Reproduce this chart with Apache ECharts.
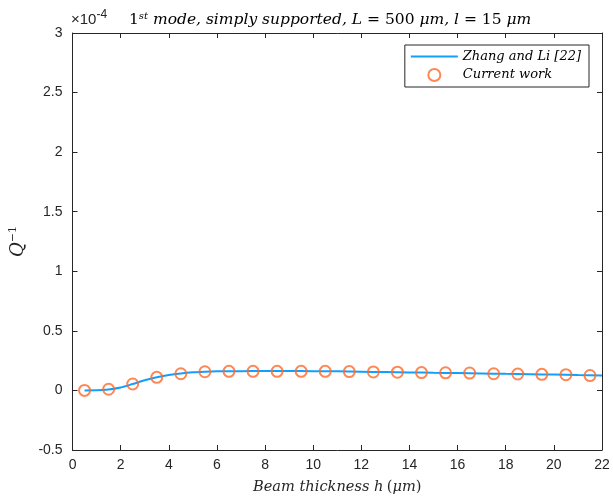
<!DOCTYPE html>
<html><head><meta charset="utf-8">
<script src="https://cdn.jsdelivr.net/npm/echarts@6/dist/echarts.min.js"></script>
<style>html,body{margin:0;padding:0;background:#fff}#c{width:613px;height:501px}</style>
</head><body><div id="c"></div>
<script>
// values in units of 1e-4
const lineX = [0.5,1,1.5,2,2.5,3,3.5,4,4.5,5,5.5,6,7,8,9,10,11,12,13,14,15,16,17,18,19,20,21,22];
const lineY = [0,0.001,0.008,0.025,0.054,0.085,0.11,0.13,0.143,0.152,0.157,0.16,0.162,0.163,0.163,0.162,0.16,0.157,0.154,0.151,0.148,0.146,0.143,0.139,0.136,0.133,0.129,0.125];
const ptsX = [0.5,1.5,2.5,3.5,4.5,5.5,6.5,7.5,8.5,9.5,10.5,11.5,12.5,13.5,14.5,15.5,16.5,17.5,18.5,19.5,20.5,21.5];
const ptsY = [0,0.01,0.054,0.11,0.14,0.157,0.16,0.16,0.16,0.16,0.16,0.158,0.155,0.153,0.15,0.148,0.146,0.14,0.138,0.135,0.132,0.125];
const xTicks = [0,2,4,6,8,10,12,14,16,18,20,22];
const yTicks = [-0.5,0,0.5,1,1.5,2,2.5,3];

const axisCol = '#262626';
const serif = 'DejaVu Serif';
const chart = echarts.init(document.getElementById('c'), null, {renderer:'canvas'});
const tickStyle = {show:true, inside:true, length:5, lineStyle:{color:axisCol, width:1}};
chart.setOption({
  animation:false,
  grid:{left:70, right:11, top:33, bottom:51, containLabel:false},
  xAxis:[{type:'value', min:0, max:22, interval:2, position:'bottom',
    axisLine:{show:true, onZero:false, lineStyle:{color:axisCol, width:1}},
    axisTick:tickStyle, splitLine:{show:false},
    axisLabel:{color:axisCol, fontFamily:'Liberation Sans', fontSize:14, margin:8},
    name:'{i|Beam thickness h} {n|(}{i|μm}{n|)}', nameLocation:'middle', nameGap:30,
    nameTextStyle:{rich:{i:{fontFamily:serif, fontStyle:'italic', fontSize:14.6, color:axisCol}, n:{fontFamily:serif, fontSize:14.6, color:axisCol}}}
  },{type:'value', min:0, max:22, interval:2, position:'top',
    axisLine:{show:true, onZero:false, lineStyle:{color:axisCol, width:1}},
    axisTick:tickStyle, axisLabel:{show:false}, splitLine:{show:false}}],
  yAxis:[{type:'value', min:-0.5, max:3, interval:0.5, position:'left',
    axisLine:{show:true, onZero:false, lineStyle:{color:axisCol, width:1}},
    axisTick:tickStyle, splitLine:{show:false},
    axisLabel:{color:axisCol, fontFamily:'Liberation Sans', fontSize:14, margin:10,
      formatter: v => yTicks.includes(v) ? String(v) : ''},
    name:'{i|Q}{s|−1}', nameLocation:'middle', nameGap:35, nameRotate:90,
    nameTextStyle:{rich:{i:{fontFamily:serif, fontStyle:'italic', fontSize:18, color:axisCol}, s:{fontFamily:serif, fontSize:11, color:axisCol, verticalAlign:'top', padding:[0,0,10,0]}}}
  },{type:'value', min:-0.5, max:3, interval:0.5, position:'right',
    axisLine:{show:true, onZero:false, lineStyle:{color:axisCol, width:1}},
    axisTick:tickStyle, axisLabel:{show:false}, splitLine:{show:false}}],
  title:{
    text:'{n|1}{s|st}{i| mode, simply supported, L }{n|= 500 }{i|μm, l }{n|= 15 }{i|μm}',
    left:124, top:6,
    textStyle:{fontWeight:'normal', rich:{
      n:{fontFamily:serif, fontSize:15.5, fontWeight:'normal', color:'#000'},
      i:{fontFamily:serif, fontStyle:'italic', fontWeight:'normal', fontSize:15.5, color:'#000'},
      s:{fontFamily:serif, fontStyle:'italic', fontWeight:'normal', fontSize:10, color:'#000', verticalAlign:'top', padding:[0,0,8,0]}
    }}
  },
  graphic:[{type:'text', left:71, top:9, style:{text:'{m|×10}{e|-4}', fill:axisCol,
    rich:{m:{fontSize:15, fontFamily:'Liberation Sans', color:axisCol, verticalAlign:'bottom'},
          e:{fontSize:12, fontFamily:'Liberation Sans', color:axisCol, verticalAlign:'top', padding:[0,0,6,0]}}}}],
  legend:{
    orient:'vertical', right:24, top:45, padding:[5,8,5,6], itemGap:5,
    backgroundColor:'#fff', borderColor:axisCol, borderWidth:1, borderRadius:0,
    itemWidth:47, itemHeight:12,
    textStyle:{fontFamily:serif, fontStyle:'italic', fontSize:13, color:'#000'},
    data:[{name:'Zhang and Li [22]', icon:'path://M0,0L47,0L47,2L0,2Z'}, {name:'Current work'}]
  },
  series:[
    {name:'Zhang and Li [22]', type:'line', xAxisIndex:0, yAxisIndex:0, smooth:0.3, showSymbol:false,
     data: lineX.map((x,i)=>[x, lineY[i]]), lineStyle:{color:'#129EFF', width:2}, itemStyle:{color:'#129EFF'}, z:2},
    {name:'Current work', type:'scatter', xAxisIndex:0, yAxisIndex:0, symbol:'circle', symbolSize:11,
     data: ptsX.map((x,i)=>[x, ptsY[i]]), itemStyle:{color:'rgba(0,0,0,0)', borderColor:'#FF6929', borderWidth:2}, z:3}
  ]
});
</script></body></html>
